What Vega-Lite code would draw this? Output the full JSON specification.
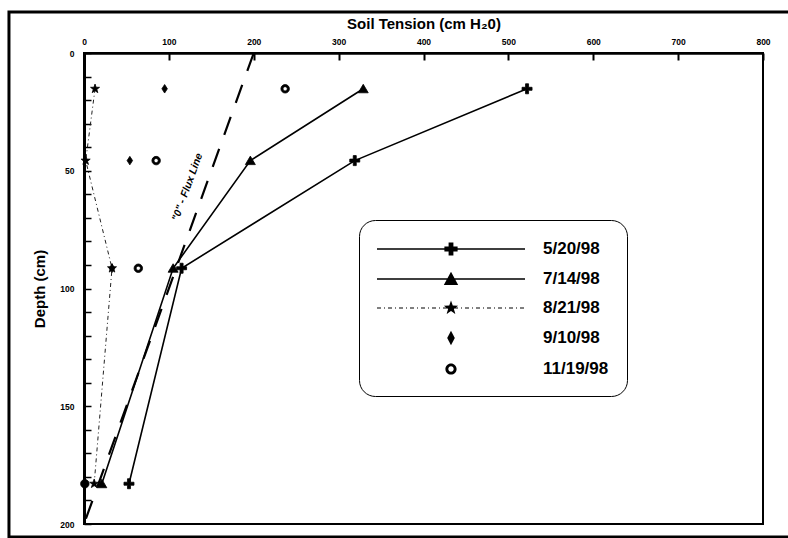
{
  "$schema": "https://vega.github.io/schema/vega-lite/v6.json",
  "width": 679,
  "height": 471,
  "autosize": "none",
  "padding": {"left": 84, "top": 53, "right": 25, "bottom": 14},
  "background": "white",
  "config": {
    "view": {"stroke": "black", "strokeWidth": 2},
    "font": "Liberation Sans",
    "axis": {"labelOverlap": false, "labelFlush": false, "grid": false, "labelColor": "black", "titleColor": "black", "tickColor": "black", "domainColor": "black", "labelFontWeight": "bold", "titleFontWeight": "bold", "labelFontSize": 8.5, "titleFontSize": 15, "tickSize": -7},
    "axisX": {"labelPadding": 14, "titlePadding": 6, "tickWidth": 2, "domainWidth": 2.5},
    "axisY": {"labelPadding": 17, "titlePadding": 12, "tickWidth": 1.5, "domainWidth": 3}
  },
  "datasets": {
    "soil": [
      {"series": "5/20/98", "tension": 522, "depth": 15.2},
      {"series": "5/20/98", "tension": 319, "depth": 45.7},
      {"series": "5/20/98", "tension": 115, "depth": 91.4},
      {"series": "5/20/98", "tension": 53, "depth": 182.9},
      {"series": "7/14/98", "tension": 329, "depth": 15.2},
      {"series": "7/14/98", "tension": 196, "depth": 45.7},
      {"series": "7/14/98", "tension": 105, "depth": 91.4},
      {"series": "7/14/98", "tension": 21, "depth": 182.9},
      {"series": "8/21/98", "tension": 13, "depth": 15.2},
      {"series": "8/21/98", "tension": 2, "depth": 45.7},
      {"series": "8/21/98", "tension": 33, "depth": 91.4},
      {"series": "8/21/98", "tension": 12, "depth": 182.9},
      {"series": "9/10/98", "tension": 95, "depth": 15.2},
      {"series": "9/10/98", "tension": 54, "depth": 45.7},
      {"series": "9/10/98", "tension": 33, "depth": 91.4},
      {"series": "9/10/98", "tension": 1, "depth": 182.9},
      {"series": "11/19/98", "tension": 237, "depth": 15.2},
      {"series": "11/19/98", "tension": 85, "depth": 45.7},
      {"series": "11/19/98", "tension": 64, "depth": 91.4},
      {"series": "11/19/98", "tension": 1, "depth": 182.9}
    ],
    "flux": [
      {"tension": 200, "depth": 0},
      {"tension": 0, "depth": 200}
    ],
    "fluxlabel": [
      {"tension": 122, "depth": 57, "label": "\"0\" - Flux Line"}
    ]
  },
  "resolve": {"scale": {"shape": "independent"}},
  "layer": [
    {
      "data": {"name": "flux"},
      "mark": {"type": "line", "stroke": "black", "strokeWidth": 2.2, "strokeDash": [19, 15]},
      "encoding": {
        "x": {"field": "tension", "type": "quantitative", "title": "Soil Tension (cm H₂0)",
          "scale": {"domain": [0, 800], "nice": false, "zero": false},
          "axis": {"orient": "top", "values": [0, 100, 200, 300, 400, 500, 600, 700, 800]}},
        "y": {"field": "depth", "type": "quantitative", "title": "Depth (cm)",
          "scale": {"domain": [0, 200], "nice": false, "zero": false, "reverse": true},
          "axis": {"values": [0, 10, 20, 30, 40, 50, 60, 70, 80, 90, 100, 110, 120, 130, 140, 150, 160, 170, 180, 190, 200], "labelExpr": "datum.value % 50 === 0 ? datum.label : ''"}},
        "order": {"field": "depth", "type": "quantitative"}
      }
    },
    {
      "data": {"values": [{}]},
      "mark": {"type": "rect", "filled": false, "stroke": "black", "strokeWidth": 3, "clip": false},
      "encoding": {
        "x": {"datum": -88.4, "type": "quantitative", "title": "Soil Tension (cm H₂0)",
          "axis": {"orient": "top", "values": [0, 100, 200, 300, 400, 500, 600, 700, 800]}},
        "x2": {"datum": 840},
        "y": {"datum": -17.4, "type": "quantitative", "title": "Depth (cm)",
          "axis": {"values": [0, 10, 20, 30, 40, 50, 60, 70, 80, 90, 100, 110, 120, 130, 140, 150, 160, 170, 180, 190, 200], "labelExpr": "datum.value % 50 === 0 ? datum.label : ''"}},
        "y2": {"datum": 205.5}
      }
    },
    {
      "data": {"name": "fluxlabel"},
      "mark": {"type": "text", "angle": 290, "fontSize": 10.5, "fontStyle": "italic", "fontWeight": "bold", "fill": "black", "align": "center", "baseline": "middle"},
      "encoding": {
        "x": {"field": "tension", "type": "quantitative", "title": "Soil Tension (cm H₂0)",
          "axis": {"orient": "top", "values": [0, 100, 200, 300, 400, 500, 600, 700, 800]}},
        "y": {"field": "depth", "type": "quantitative", "title": "Depth (cm)",
          "axis": {"values": [0, 10, 20, 30, 40, 50, 60, 70, 80, 90, 100, 110, 120, 130, 140, 150, 160, 170, 180, 190, 200], "labelExpr": "datum.value % 50 === 0 ? datum.label : ''"}},
        "text": {"field": "label"}
      }
    },
    {
      "data": {"name": "soil"},
      "transform": [{"filter": "datum.series === '5/20/98' || datum.series === '7/14/98'"}],
      "mark": {"type": "line", "stroke": "black", "strokeWidth": 1.6},
      "encoding": {
        "x": {"field": "tension", "type": "quantitative", "title": "Soil Tension (cm H₂0)",
          "axis": {"orient": "top", "values": [0, 100, 200, 300, 400, 500, 600, 700, 800]}},
        "y": {"field": "depth", "type": "quantitative", "title": "Depth (cm)",
          "axis": {"values": [0, 10, 20, 30, 40, 50, 60, 70, 80, 90, 100, 110, 120, 130, 140, 150, 160, 170, 180, 190, 200], "labelExpr": "datum.value % 50 === 0 ? datum.label : ''"}},
        "detail": {"field": "series"},
        "order": {"field": "depth", "type": "quantitative"}
      }
    },
    {
      "data": {"name": "soil"},
      "transform": [{"filter": "datum.series === '8/21/98'"}],
      "mark": {"type": "line", "stroke": "#222", "strokeWidth": 1, "strokeDash": [4, 3, 1, 3]},
      "encoding": {
        "x": {"field": "tension", "type": "quantitative", "title": "Soil Tension (cm H₂0)",
          "axis": {"orient": "top", "values": [0, 100, 200, 300, 400, 500, 600, 700, 800]}},
        "y": {"field": "depth", "type": "quantitative", "title": "Depth (cm)",
          "axis": {"values": [0, 10, 20, 30, 40, 50, 60, 70, 80, 90, 100, 110, 120, 130, 140, 150, 160, 170, 180, 190, 200], "labelExpr": "datum.value % 50 === 0 ? datum.label : ''"}},
        "order": {"field": "depth", "type": "quantitative"}
      }
    },
    {
      "data": {"name": "soil"},
      "mark": {"type": "point", "filled": true, "size": 100, "opacity": 1, "fill": "black", "stroke": "black", "strokeWidth": 0.8},
      "encoding": {
        "x": {"field": "tension", "type": "quantitative", "title": "Soil Tension (cm H₂0)",
          "axis": {"orient": "top", "values": [0, 100, 200, 300, 400, 500, 600, 700, 800]}},
        "y": {"field": "depth", "type": "quantitative", "title": "Depth (cm)",
          "axis": {"values": [0, 10, 20, 30, 40, 50, 60, 70, 80, 90, 100, 110, 120, 130, 140, 150, 160, 170, 180, 190, 200], "labelExpr": "datum.value % 50 === 0 ? datum.label : ''"}},
        "shape": {
          "field": "series", "type": "nominal",
          "scale": {
            "domain": ["5/20/98", "7/14/98", "8/21/98", "9/10/98", "11/19/98"],
            "range": [
              "M-0.3,-1L0.3,-1L0.3,-0.3L1,-0.3L1,0.3L0.3,0.3L0.3,1L-0.3,1L-0.3,0.3L-1,0.3L-1,-0.3L-0.3,-0.3Z",
              "M0,-0.9L1,0.8L-1,0.8Z",
              "M0,-0.95L0.223,-0.308L0.903,-0.294L0.361,0.118L0.559,0.769L0,0.38L-0.559,0.769L-0.361,0.118L-0.903,-0.294L-0.223,-0.308Z",
              "M0,-0.85L0.55,0L0,0.85L-0.55,0Z",
              "M0.85,0A0.85,0.85 0 1,1 -0.85,0A0.85,0.85 0 1,1 0.85,0ZM0.42,0A0.42,0.42 0 1,0 -0.42,0A0.42,0.42 0 1,0 0.42,0Z"
            ]
          },
          "legend": null
        }
      }
    },
    {
      "data": {"name": "soil"},
      "transform": [{"filter": "false"}],
      "mark": {"type": "point", "filled": false, "size": 400, "opacity": 1, "fill": "black", "stroke": "black", "strokeWidth": 1.5},
      "encoding": {
        "x": {"field": "tension", "type": "quantitative", "title": "Soil Tension (cm H₂0)",
          "axis": {"orient": "top", "values": [0, 100, 200, 300, 400, 500, 600, 700, 800]}},
        "y": {"field": "depth", "type": "quantitative", "title": "Depth (cm)",
          "axis": {"values": [0, 10, 20, 30, 40, 50, 60, 70, 80, 90, 100, 110, 120, 130, 140, 150, 160, 170, 180, 190, 200], "labelExpr": "datum.value % 50 === 0 ? datum.label : ''"}},
        "shape": {
          "field": "series", "type": "nominal",
          "scale": {
            "domain": ["5/20/98", "7/14/98", "8/21/98", "9/10/98", "11/19/98"],
            "range": [
              "M-7.4,-0.08L7.4,-0.08L7.4,0.08L-7.4,0.08ZM-0.24,-0.66L0.24,-0.66L0.24,-0.24L0.66,-0.24L0.66,0.24L0.24,0.24L0.24,0.66L-0.24,0.66L-0.24,0.24L-0.66,0.24L-0.66,-0.24L-0.24,-0.24Z",
              "M-7.4,-0.08L7.4,-0.08L7.4,0.08L-7.4,0.08ZM0,-0.72L0.72,0.6L-0.72,0.6Z",
              "M-7.4,-0.05L-7,-0.05L-7,0.05L-7.4,0.05ZM-6.7,-0.05L-6.6,-0.05L-6.6,0.05L-6.7,0.05ZM-6.3,-0.05L-5.9,-0.05L-5.9,0.05L-6.3,0.05ZM-5.6,-0.05L-5.5,-0.05L-5.5,0.05L-5.6,0.05ZM-5.2,-0.05L-4.8,-0.05L-4.8,0.05L-5.2,0.05ZM-4.5,-0.05L-4.4,-0.05L-4.4,0.05L-4.5,0.05ZM-4.1,-0.05L-3.7,-0.05L-3.7,0.05L-4.1,0.05ZM-3.4,-0.05L-3.3,-0.05L-3.3,0.05L-3.4,0.05ZM-3,-0.05L-2.6,-0.05L-2.6,0.05L-3,0.05ZM-2.3,-0.05L-2.2,-0.05L-2.2,0.05L-2.3,0.05ZM-1.9,-0.05L-1.5,-0.05L-1.5,0.05L-1.9,0.05ZM-1.2,-0.05L-1.1,-0.05L-1.1,0.05L-1.2,0.05ZM-0.8,-0.05L-0.4,-0.05L-0.4,0.05L-0.8,0.05ZM0.3,-0.05L0.7,-0.05L0.7,0.05L0.3,0.05ZM1,-0.05L1.1,-0.05L1.1,0.05L1,0.05ZM1.4,-0.05L1.8,-0.05L1.8,0.05L1.4,0.05ZM2.1,-0.05L2.2,-0.05L2.2,0.05L2.1,0.05ZM2.5,-0.05L2.9,-0.05L2.9,0.05L2.5,0.05ZM3.2,-0.05L3.3,-0.05L3.3,0.05L3.2,0.05ZM3.6,-0.05L4,-0.05L4,0.05L3.6,0.05ZM4.3,-0.05L4.4,-0.05L4.4,0.05L4.3,0.05ZM4.7,-0.05L5.1,-0.05L5.1,0.05L4.7,0.05ZM5.4,-0.05L5.5,-0.05L5.5,0.05L5.4,0.05ZM5.8,-0.05L6.2,-0.05L6.2,0.05L5.8,0.05ZM6.5,-0.05L6.6,-0.05L6.6,0.05L6.5,0.05ZM6.9,-0.05L7.3,-0.05L7.3,0.05L6.9,0.05ZM0,-0.75L0.176,-0.243L0.713,-0.232L0.285,0.093L0.441,0.607L0,0.3L-0.441,0.607L-0.285,0.093L-0.713,-0.232L-0.176,-0.243Z",
              "M0,-0.72L0.38,0L0,0.72L-0.38,0Z",
              "M0.56,0A0.56,0.56 0 1,1 -0.56,0A0.56,0.56 0 1,1 0.56,0ZM0.27,0A0.27,0.27 0 1,0 -0.27,0A0.27,0.27 0 1,0 0.27,0Z"
            ]
          },
          "legend": {
            "title": null,
            "orient": "none",
            "legendX": 275,
            "legendY": 167,
            "direction": "vertical",
            "padding": 18,
            "rowPadding": 9,
            "symbolSize": 400,
            "symbolOffset": 63,
            "symbolStrokeWidth": 1.5,
            "symbolFillColor": "black",
            "symbolStrokeColor": "black",
            "labelOffset": 81,
            "labelFontSize": 17,
            "labelFont": "Liberation Sans",
            "labelFontWeight": "bold",
            "labelColor": "black",
            "labelLimit": 300,
            "strokeColor": "black",
            "fillColor": "white",
            "cornerRadius": 16,
            "encode": {
              "symbols": {
                "stroke": {"value": "black"},
                "fill": {"value": "black"},
                "strokeWidth": {"value": 1.5}
              }
            }
          }
        }
      }
    }
  ]
}
